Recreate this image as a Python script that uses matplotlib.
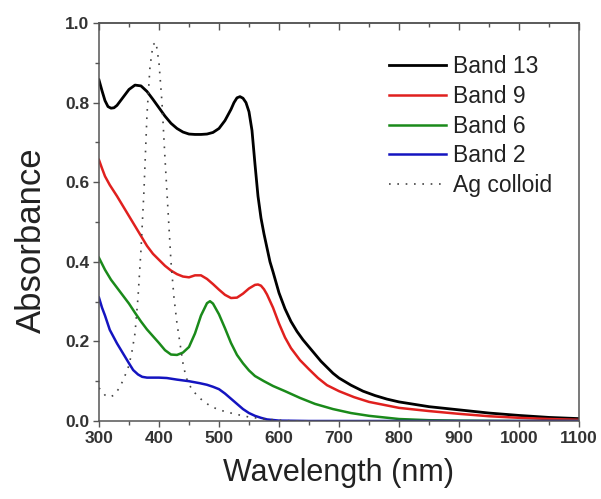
import numpy as np
import matplotlib
matplotlib.use("Agg")
import matplotlib.pyplot as plt
from matplotlib.ticker import MultipleLocator

plt.rcParams['font.family'] = ['Liberation Sans', 'DejaVu Sans']

# Band 13 (black)
nm_b13 = [300, 305, 310, 315, 320, 325, 330, 340, 350, 360, 370, 380, 390, 400, 410, 420, 430,
          440, 450, 460, 470, 480, 490, 500, 510, 520, 525, 530, 535, 540, 545, 550, 555, 560,
          565, 570, 575, 580, 585, 590, 600, 610, 620, 630, 640, 650, 660, 670, 680, 690, 700,
          720, 740, 760, 780, 800, 850, 900, 950, 1000, 1050, 1100]
abs_b13 = [0.857, 0.83, 0.805, 0.79, 0.786, 0.787, 0.793, 0.813, 0.833, 0.844, 0.842, 0.828,
           0.808, 0.787, 0.766, 0.748, 0.735, 0.726, 0.721, 0.720, 0.720, 0.721, 0.725, 0.735,
           0.755, 0.783, 0.800, 0.812, 0.815, 0.811, 0.80, 0.777, 0.73, 0.645, 0.565, 0.51,
           0.47, 0.435, 0.40, 0.375, 0.322, 0.282, 0.25, 0.225, 0.204, 0.186, 0.168, 0.15,
           0.135, 0.12, 0.108, 0.09, 0.075, 0.064, 0.055, 0.048, 0.036, 0.028, 0.02, 0.014,
           0.009, 0.006]

# Band 9 (red)
nm_b9 = [300, 305, 310, 318, 330, 340, 350, 360, 370, 380, 390, 400, 410, 420, 430, 440, 450,
         460, 470, 480, 490, 500, 510, 520, 530, 540, 550, 560, 565, 570, 575, 580, 590, 600,
         610, 620, 635, 650, 665, 680, 700, 725, 750, 800, 850, 900, 950, 1000, 1050, 1100]
abs_b9 = [0.656, 0.635, 0.615, 0.593, 0.565, 0.54, 0.515, 0.49, 0.465, 0.44, 0.42, 0.405,
          0.39, 0.378, 0.369, 0.363, 0.361, 0.366, 0.366, 0.357, 0.344, 0.33, 0.317, 0.309,
          0.31, 0.32, 0.333, 0.342, 0.343, 0.34, 0.331, 0.318, 0.285, 0.245, 0.21, 0.183,
          0.153, 0.13, 0.108, 0.09, 0.075, 0.06, 0.048, 0.033, 0.025, 0.018, 0.012, 0.008,
          0.005, 0.003]

# Band 6 (green)
nm_b6 = [300, 310, 320, 330, 340, 350, 360, 370, 380, 390, 400, 410, 420, 430, 440, 450, 460,
         470, 480, 485, 490, 500, 510, 520, 530, 540, 550, 560, 575, 590, 610, 635, 660, 690,
         720, 750, 800, 850, 900, 1000, 1100]
abs_b6 = [0.41, 0.38, 0.355, 0.335, 0.315, 0.295, 0.272, 0.25, 0.23, 0.213, 0.196, 0.178,
          0.167, 0.166, 0.172, 0.186, 0.22, 0.265, 0.296, 0.301, 0.295, 0.268, 0.233, 0.196,
          0.166, 0.145, 0.127, 0.113, 0.1, 0.088, 0.075, 0.058, 0.043, 0.03, 0.02, 0.013,
          0.005, 0.002, 0.001, 0.0, 0.0]

# Band 2 (blue)
nm_b2 = [300, 305, 310, 318, 330, 340, 350, 357, 365, 372, 380, 390, 400, 413, 430, 450, 468,
         480, 490, 500, 510, 520, 530, 540, 550, 560, 570, 580, 600, 650, 700, 800, 900, 1000, 1100]
abs_b2 = [0.31, 0.285, 0.265, 0.229, 0.195, 0.17, 0.145, 0.128, 0.117, 0.111, 0.109, 0.109,
          0.109, 0.108, 0.104, 0.1, 0.095, 0.091, 0.086, 0.08, 0.069, 0.056, 0.043, 0.03,
          0.02, 0.013, 0.008, 0.004, 0.001, 0.0, 0.0, 0.0, 0.0, 0.0, 0.0]

# Ag colloid (dotted)
nm_ag = [300, 305, 310, 318, 325, 335, 345, 350, 355, 360, 365, 370, 375, 380, 385, 390, 395,
         400, 405, 410, 415, 420, 425, 430, 435, 440, 445, 455, 470, 485, 500, 525, 550, 575,
         600, 625, 650]
abs_ag = [0.083, 0.075, 0.065, 0.06, 0.065, 0.085, 0.12, 0.14, 0.175, 0.22, 0.31, 0.43, 0.58,
          0.77, 0.89, 0.945, 0.952, 0.90, 0.80, 0.66, 0.53, 0.40, 0.31, 0.245, 0.195, 0.145,
          0.11, 0.078, 0.055, 0.038, 0.028, 0.018, 0.01, 0.005, 0.002, 0.0, 0.0]

fig = plt.figure(figsize=(6.01, 4.99), dpi=100)
ax = fig.add_axes([0.1647, 0.1563, 0.7987, 0.7976])

ax.plot(nm_b13, abs_b13, color='black', lw=2.0, label='Band 13')
ax.plot(nm_b9, abs_b9, color='#e0201e', lw=1.8, label='Band 9')
ax.plot(nm_b6, abs_b6, color='#1a8a1a', lw=1.8, label='Band 6')
ax.plot(nm_b2, abs_b2, color='#1414c0', lw=1.8, label='Band 2')
ax.plot(nm_ag, abs_ag, color='#444444', lw=1.2, linestyle=(0, (1, 4)), label='Ag colloid')

ax.set_xlim(300, 1100)
ax.set_ylim(0.0, 1.0)
ax.xaxis.set_major_locator(MultipleLocator(100))
ax.xaxis.set_minor_locator(MultipleLocator(50))
ax.yaxis.set_major_locator(MultipleLocator(0.2))
ax.yaxis.set_minor_locator(MultipleLocator(0.1))
ax.yaxis.set_major_formatter(matplotlib.ticker.FormatStrFormatter('%.1f'))

for s in ax.spines.values():
    s.set_color('#555555')
    s.set_linewidth(1.1)

ax.tick_params(axis='both', which='both', direction='out', color='#555555',
               labelsize=12.5, pad=3)
ax.tick_params(which='major', length=4, width=1.0)
ax.tick_params(which='minor', length=3, width=1.0)
for lab in ax.get_xticklabels() + ax.get_yticklabels():
    lab.set_fontweight('bold')
    lab.set_color('#333333')

# top ticks pointing inward, no labels
top = ax.secondary_xaxis('top')
top.xaxis.set_major_locator(MultipleLocator(100))
top.xaxis.set_minor_locator(MultipleLocator(50))
top.tick_params(which='both', direction='in', color='#555555', labeltop=False)
top.tick_params(which='major', length=5, width=1.0)
top.tick_params(which='minor', length=3, width=1.0)
top.spines['top'].set_color('#555555')
top.spines['top'].set_linewidth(1.1)

ax.set_xlabel('Wavelength (nm)', fontsize=22, color='#222222', labelpad=9)
ax.set_ylabel('Absorbance', fontsize=25, color='#222222', labelpad=12)
ax.yaxis.label.set_y(0.455)

leg = ax.legend(loc='upper left', bbox_to_anchor=(0.604, 0.92), frameon=False,
                fontsize=16.5, handlelength=2.5, handletextpad=0.3, labelspacing=0.3,
                borderpad=0, borderaxespad=0)
for t in leg.get_texts():
    t.set_color('#222222')

fig.savefig('out.png', dpi=100)
